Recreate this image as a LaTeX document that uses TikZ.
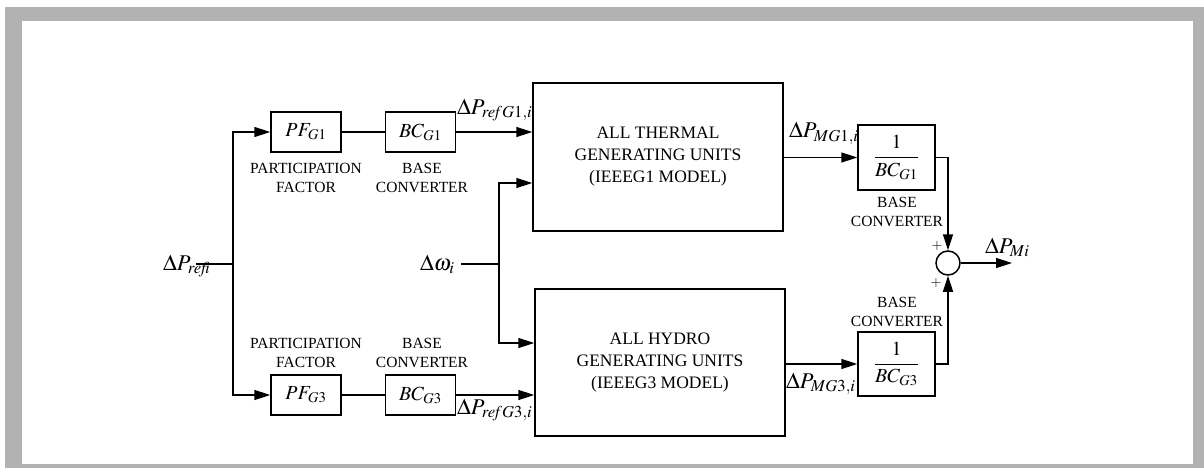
\documentclass[tikz,border=0pt]{standalone}
\usepackage{amsmath}
\usepackage{mathptmx}
\usepackage{fontspec}
\setmainfont{Liberation Serif}
\usetikzlibrary{positioning, arrows.meta, calc}
\definecolor{FrameGray}{RGB}{178,178,178}

\tikzset{
  blk/.style={draw, line width=1.5pt, minimum width=70pt, minimum height=40pt,
              inner sep=0pt, font=\fontsize{20}{22}\selectfont},
  bigblk/.style={draw, line width=1.5pt, minimum width=250pt, minimum height=148pt,
                 align=center, font=\fontsize{17.5}{22}\selectfont},
  caplbl/.style={align=center, inner sep=0pt, font=\fontsize{15.5}{19}\selectfont},
  siglbl/.style={inner sep=0pt, anchor=base west, font=\fontsize{22.5}{25}\selectfont},
  sig/.style={line width=1.5pt, -{Triangle[length=16pt,width=10pt]}},
  wire/.style={line width=1.5pt},
}

\begin{document}
\begin{tikzpicture}[x=1pt, y=-1pt]
  \useasboundingbox (0,0) rectangle (1204,468);
  \fill[FrameGray] (5,7) rectangle (1204,468);
  \fill[white] (22,21) rectangle (1193,464);

  % blocks
  \node[blk] (pfA) at (306,132) {$PF_{G1}$};
  \node[blk] (bcA) at (420.5,132) {$BC_{G1}$};
  \node[blk] (pfB) at (306,395) {$PF_{G3}$};
  \node[blk] (bcB) at (420.5,395) {$BC_{G3}$};
  \node[bigblk] (thermal) at (658,157)
        {ALL THERMAL\\GENERATING UNITS\\(IEEEG1 MODEL)};
  \node[bigblk, minimum height=147pt] (hydro) at (660,362.5)
        {ALL HYDRO\\GENERATING UNITS\\(IEEEG3 MODEL)};
  \node[blk, minimum width=77pt, minimum height=65pt] (invA) at (896.5,157.5)
        {$\dfrac{1}{BC_{G1}}$};
  \node[blk, minimum width=77pt, minimum height=64pt] (invB) at (896.5,364)
        {$\dfrac{1}{BC_{G3}}$};
  \node[draw, circle, line width=1.5pt, minimum size=24pt, inner sep=0pt]
        (sum) at (948,263) {};

  % captions
  \node[caplbl] (capPfA) at (306,178) {PARTICIPATION\\FACTOR};
  \node[caplbl] (capBcA) at (422,178) {BASE\\CONVERTER};
  \node[caplbl] (capPfB) at (306,353) {PARTICIPATION\\FACTOR};
  \node[caplbl] (capBcB) at (422,353) {BASE\\CONVERTER};
  \node[caplbl] (capInvA) at (897,212) {BASE\\CONVERTER};
  \node[caplbl] (capInvB) at (897,312) {BASE\\CONVERTER};

  % inputs
  \node[siglbl] (dPref) at (163,270) {$\Delta P_{\mathit{refi}}$};
  \coordinate (refSrc) at (196,264);
  \coordinate (refSplit) at (233,264);
  \draw[wire] (refSrc) -- (refSplit);
  \draw[sig] (refSplit) |- (pfA.west);
  \draw[sig] (refSplit) |- (pfB.west);
  \draw[wire] (pfA) -- (bcA);
  \draw[wire] (pfB) -- (bcB);
  \draw[sig] (bcA.east) -- (bcA.east -| thermal.west);
  \draw[sig] (bcB.east) -- (bcB.east -| hydro.west);

  \node[siglbl] (dOmega) at (420,270) {$\Delta\omega_i$};
  \coordinate (wSrc) at (461,264);
  \coordinate (wSplit) at (499,264);
  \draw[wire] (wSrc) -- (wSplit);
  \draw[sig] (wSplit) |- ($(thermal.west)+(0,26)$);
  \draw[sig] (wSplit) |- ($(hydro.west)+(0,-19.5)$);

  % outputs
  \draw[sig] (thermal.east |- invA.west) -- (invA.west);
  \draw[sig] (hydro.east |- invB.west) -- (invB.west);
  \draw[sig] (invA.east) -| (sum.north);
  \draw[sig] (invB.east) -| (sum.south);
  \coordinate (sumOut) at (1012,263);
  \draw[sig] (sum.east) -- (sumOut);

  % signal labels
  \node[siglbl] (dPrefA) at (457,114) {$\Delta P_{\mathit{ref}G1,i}$};
  \node[siglbl] (dPrefB) at (457,414) {$\Delta P_{\mathit{ref}G3,i}$};
  \node[siglbl] (dPmA) at (789,138) {$\Delta P_{MG1,i}$};
  \node[siglbl] (dPmB) at (786,388) {$\Delta P_{MG3,i}$};
  \node[siglbl] (dPm) at (985,253) {$\Delta P_{Mi}$};
  \node[font=\fontsize{14}{14}\selectfont, inner sep=0pt] (plusA) at (937,246) {$+$};
  \node[font=\fontsize{14}{14}\selectfont, inner sep=0pt] (plusB) at (936,283) {$+$};
\end{tikzpicture}
\end{document}
